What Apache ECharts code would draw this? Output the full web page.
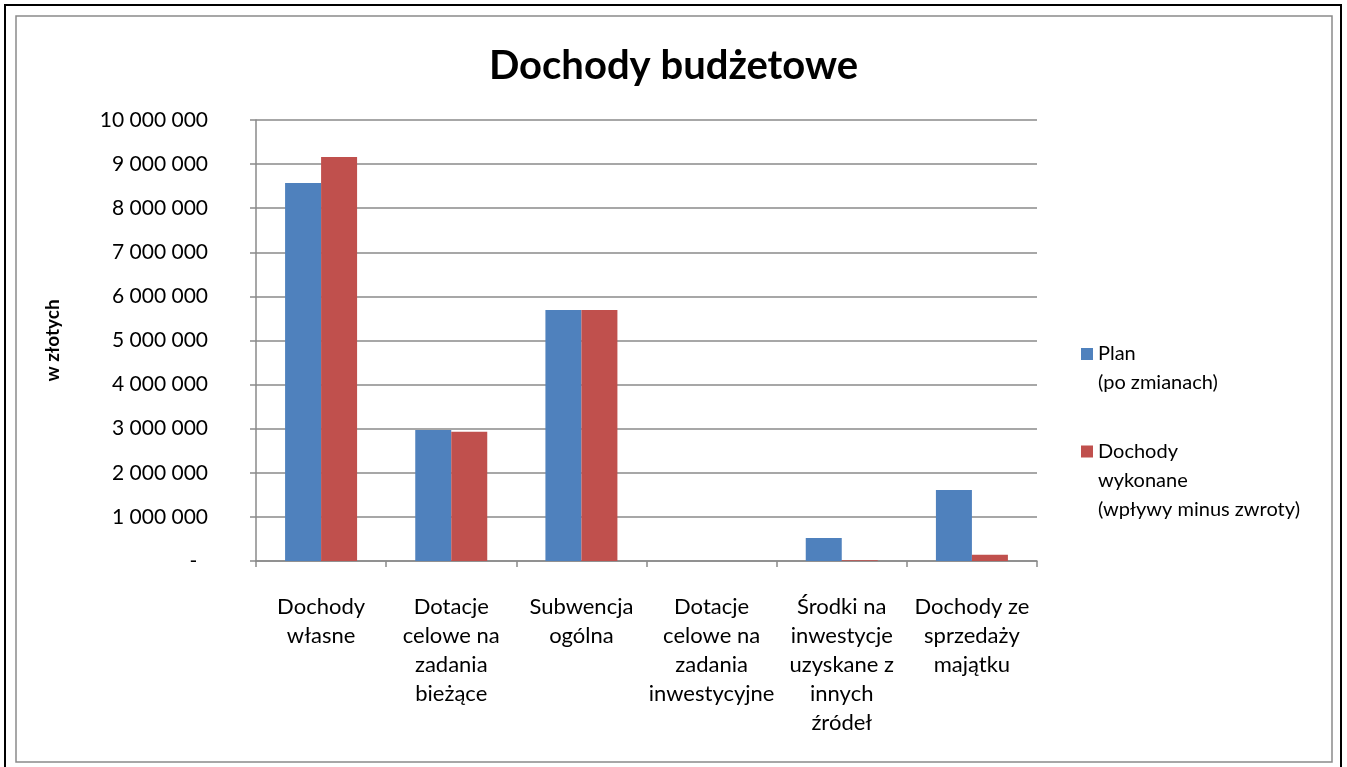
<!DOCTYPE html>
<html>
<head>
<meta charset="utf-8">
<script src="https://cdn.jsdelivr.net/npm/echarts@6/dist/echarts.min.js"></script>
<style>
html,body{margin:0;padding:0;background:#fff;}
#chart{width:1347px;height:767px;}
</style>
</head>
<body>
<div id="chart"></div>
<script>
const categories = [
  'Dochody\nwłasne',
  'Dotacje\ncelowe na\nzadania\nbieżące',
  'Subwencja\nogólna',
  'Dotacje\ncelowe na\nzadania\ninwestycyjne',
  'Środki na\ninwestycje\nuzyskane z\ninnych\nźródeł',
  'Dochody ze\nsprzedaży\nmajątku'
];
const planValues = [8570000, 2970000, 5690000, 0, 520000, 1610000];
const wykonaneValues = [9160000, 2930000, 5690000, 0, 15000, 140000];
const seriesNames = ['Plan\n(po zmianach)', 'Dochody\nwykonane\n(wpływy minus zwroty)'];
const chartTitle = 'Dochody budżetowe';
const yAxisName = 'w złotych';

const FONT = 'Lato, "Open Sans", sans-serif';
const chart = echarts.init(document.getElementById('chart'));

function fmt(v) {
  if (v === 0) return '-  ';
  return String(v).replace(/\B(?=(\d{3})+(?!\d))/g, ' ');
}

// legend icons: a 12x12 square placed on the first text line inside a tall (87px) icon box
function iconAt(y) {
  return 'path://M0,0h0.01v0.01h-0.01z M0,' + y + 'h12v12h-12z M11.99,86.99h0.01v0.01h-0.01z';
}

chart.setOption({
  backgroundColor: '#fff',
  animation: false,
  title: {
    text: chartTitle,
    left: 'center',
    top: 41,
    textStyle: { fontFamily: FONT, fontSize: 40, fontWeight: 'bold', color: '#000' }
  },
  graphic: [
    { type: 'rect', shape: { x: 5, y: 5, width: 1336, height: 780 }, style: { fill: 'none', stroke: '#000', lineWidth: 2 }, silent: true },
    { type: 'rect', shape: { x: 16, y: 16, width: 1316, height: 746 }, style: { fill: 'none', stroke: '#8a8a8a', lineWidth: 1.5 }, silent: true }
  ],
  legend: {
    orient: 'vertical',
    left: 1076,
    top: 320,
    itemWidth: 12,
    itemHeight: 87,
    itemGap: 25,
    textStyle: { fontFamily: FONT, fontSize: 20, color: '#000', lineHeight: 29 },
    data: [
      { name: seriesNames[0], icon: iconAt(23) },
      { name: seriesNames[1], icon: iconAt(8.5) }
    ]
  },
  grid: { left: 256, right: 310, top: 120, bottom: 206, containLabel: false },
  xAxis: {
    type: 'category',
    data: categories,
    axisLine: { lineStyle: { color: '#8a8a8a', width: 1.5 } },
    axisTick: { show: true, length: 6, lineStyle: { color: '#8a8a8a', width: 1.5 } },
    axisLabel: { interval: 0, margin: 31, fontFamily: FONT, fontSize: 22, color: '#000', lineHeight: 29 }
  },
  yAxis: {
    type: 'value',
    min: 0,
    max: 10000000,
    interval: 1000000,
    name: yAxisName,
    nameLocation: 'middle',
    nameGap: 194,
    nameRotate: 90,
    nameTextStyle: { fontFamily: FONT, fontSize: 19, fontWeight: 'bold', color: '#000' },
    axisLine: { show: true, lineStyle: { color: '#8a8a8a', width: 1.5 } },
    axisTick: { show: true, length: 6, lineStyle: { color: '#8a8a8a', width: 1.5 } },
    splitLine: { show: true, lineStyle: { color: '#8a8a8a', width: 1.5 } },
    axisLabel: { margin: 48, fontFamily: FONT, fontSize: 21, color: '#000', formatter: fmt }
  },
  series: [
    { name: seriesNames[0], type: 'bar', data: planValues, barWidth: 36, barGap: '0%', itemStyle: { color: '#4F81BD' } },
    { name: seriesNames[1], type: 'bar', data: wykonaneValues, barWidth: 36, barGap: '0%', itemStyle: { color: '#C0504D' } }
  ]
});
</script>
</body>
</html>
